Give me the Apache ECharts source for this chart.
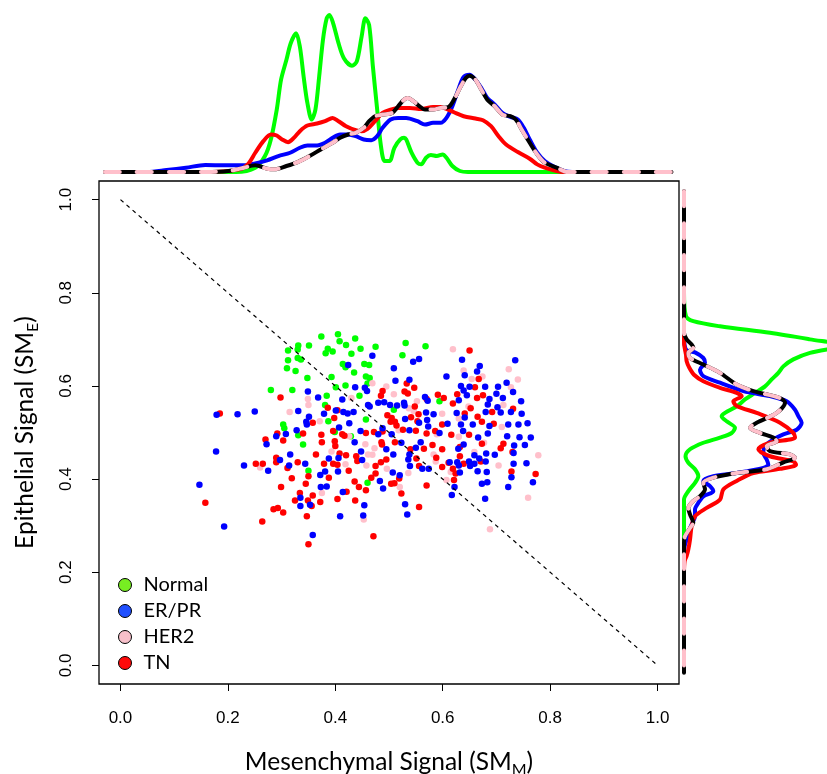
<!DOCTYPE html>
<html>
<head>
<meta charset="utf-8">
<script src="https://cdn.jsdelivr.net/npm/echarts@6/dist/echarts.min.js"></script>
<style>
  html, body { margin: 0; padding: 0; background: #fff; }
  #chart { width: 827px; height: 774px; }
</style>
</head>
<body>
<div id="chart"></div>
<script>
// tick positions shared by both axes
const tickValues = [0, 0.2, 0.4, 0.6, 0.8, 1.0];

// scatter points [SM_M, SM_E] per subtype
const normalPts = [
  [0.312,0.676],[0.331,0.687],[0.330,0.678],[0.351,0.687],[0.312,0.655],[0.330,0.660],[0.336,0.657],[0.310,0.638],
  [0.326,0.632],[0.348,0.617],[0.280,0.591],[0.320,0.591],[0.303,0.517],[0.305,0.509],[0.331,0.494],
  [0.405,0.711],[0.374,0.706],[0.437,0.702],[0.408,0.696],[0.420,0.688],[0.386,0.680],[0.382,0.670],[0.395,0.674],
  [0.447,0.680],[0.475,0.684],[0.531,0.692],[0.568,0.685],[0.430,0.669],[0.525,0.666],[0.414,0.647],[0.419,0.640],
  [0.454,0.647],[0.463,0.645],[0.435,0.629],[0.393,0.619],[0.457,0.620],[0.464,0.617],[0.460,0.605],[0.401,0.597],
  [0.419,0.601],[0.384,0.579],[0.445,0.579],[0.381,0.559],[0.387,0.524],[0.457,0.528],[0.509,0.549],[0.429,0.492],
  [0.399,0.501],[0.594,0.567],[0.340,0.474],[0.350,0.418],[0.460,0.392]
];
const erPts = [
  [0.179,0.538],[0.218,0.539],[0.250,0.545],[0.331,0.546],[0.349,0.588],[0.351,0.534],[0.346,0.523],[0.347,0.517],
  [0.328,0.505],[0.308,0.497],[0.290,0.492],
  [0.469,0.665],[0.424,0.645],[0.509,0.638],[0.545,0.652],[0.556,0.658],[0.512,0.611],[0.538,0.613],[0.437,0.597],
  [0.455,0.596],[0.459,0.589],[0.368,0.575],[0.413,0.571],[0.461,0.559],[0.464,0.556],[0.480,0.564],[0.491,0.565],
  [0.502,0.559],[0.515,0.558],[0.528,0.564],[0.529,0.558],[0.567,0.576],[0.572,0.568],[0.401,0.547],[0.415,0.544],
  [0.423,0.541],[0.434,0.544],[0.379,0.540],[0.530,0.529],[0.569,0.543],[0.571,0.527],[0.426,0.520],[0.407,0.511],
  [0.447,0.503],[0.488,0.509],[0.480,0.496],[0.505,0.496],[0.538,0.505],[0.573,0.513],[0.556,0.521],
  [0.636,0.656],[0.669,0.643],[0.664,0.631],[0.641,0.623],[0.607,0.620],[0.735,0.655],[0.719,0.607],[0.634,0.600],
  [0.650,0.598],[0.679,0.598],[0.703,0.598],[0.731,0.587],[0.639,0.590],[0.645,0.580],[0.700,0.583],[0.687,0.572],
  [0.712,0.574],[0.746,0.567],[0.630,0.569],[0.684,0.560],[0.702,0.554],[0.680,0.544],[0.708,0.543],[0.727,0.544],
  [0.747,0.540],[0.626,0.542],[0.641,0.532],[0.583,0.539],[0.722,0.517],[0.741,0.517],[0.758,0.520],[0.656,0.517],
  [0.634,0.517],[0.609,0.519],[0.687,0.514],[0.684,0.498],[0.720,0.492],[0.743,0.490],[0.764,0.489],[0.666,0.489],
  [0.594,0.499],[0.638,0.503],
  [0.178,0.459],[0.230,0.429],[0.275,0.418],[0.272,0.475],[0.316,0.453],[0.297,0.441],[0.314,0.429],[0.344,0.433],
  [0.147,0.388],[0.335,0.360],[0.335,0.342],[0.193,0.298],
  [0.436,0.479],[0.495,0.464],[0.508,0.453],[0.448,0.459],[0.450,0.441],[0.406,0.445],[0.388,0.444],[0.405,0.416],
  [0.381,0.416],[0.372,0.409],[0.384,0.384],[0.373,0.383],[0.414,0.372],[0.483,0.396],[0.489,0.380],[0.507,0.414],
  [0.520,0.408],[0.454,0.344],[0.452,0.322],[0.409,0.320],[0.530,0.346],[0.534,0.324],[0.358,0.280],[0.538,0.453],
  [0.536,0.442],[0.539,0.428],[0.550,0.467],[0.562,0.422],[0.574,0.422],[0.559,0.479],[0.523,0.478],[0.353,0.345],
  [0.639,0.474],[0.629,0.465],[0.613,0.436],[0.627,0.436],[0.630,0.429],[0.649,0.438],[0.651,0.428],[0.659,0.433],
  [0.659,0.451],[0.668,0.444],[0.681,0.455],[0.680,0.438],[0.697,0.452],[0.665,0.417],[0.682,0.415],[0.632,0.414],
  [0.622,0.383],[0.617,0.366],[0.673,0.390],[0.683,0.393],[0.679,0.358],[0.722,0.383],[0.728,0.404],[0.732,0.433],
  [0.732,0.456],[0.733,0.472],[0.753,0.473],[0.756,0.434],[0.768,0.393]
];
const her2Pts = [
  [0.349,0.572],[0.350,0.559],[0.315,0.544],
  [0.469,0.606],[0.495,0.599],[0.430,0.574],[0.509,0.582],[0.552,0.567],[0.537,0.552],[0.371,0.524],[0.518,0.505],
  [0.546,0.546],[0.426,0.492],
  [0.619,0.679],[0.639,0.633],[0.723,0.636],[0.654,0.615],[0.674,0.620],[0.740,0.614],[0.727,0.597],[0.648,0.556],
  [0.713,0.559],[0.599,0.540],[0.630,0.530],[0.710,0.512],[0.589,0.496],[0.630,0.491],
  [0.260,0.425],
  [0.456,0.475],[0.473,0.466],[0.461,0.453],[0.469,0.452],[0.419,0.432],[0.458,0.429],[0.496,0.422],[0.536,0.413],
  [0.520,0.383],[0.375,0.370],[0.453,0.313],[0.393,0.459],
  [0.583,0.453],[0.587,0.438],[0.607,0.398],[0.615,0.415],[0.659,0.458],[0.677,0.478],[0.704,0.429],[0.778,0.451],
  [0.759,0.360],[0.688,0.292]
];
const tnPts = [
  [0.298,0.575],[0.185,0.541],[0.292,0.498],[0.340,0.498],[0.270,0.485],
  [0.533,0.605],[0.547,0.596],[0.529,0.588],[0.535,0.584],[0.488,0.589],[0.485,0.579],[0.570,0.572],[0.548,0.556],
  [0.386,0.553],[0.404,0.548],[0.497,0.537],[0.505,0.531],[0.541,0.533],[0.555,0.539],[0.358,0.521],[0.398,0.531],
  [0.503,0.523],[0.511,0.523],[0.514,0.515],[0.553,0.524],[0.550,0.504],[0.526,0.506],[0.396,0.503],[0.374,0.495],
  [0.413,0.496],[0.457,0.499],[0.472,0.501],[0.488,0.502],[0.417,0.493],[0.570,0.498],
  [0.650,0.676],[0.667,0.615],[0.660,0.597],[0.591,0.581],[0.602,0.574],[0.627,0.582],[0.675,0.580],[0.664,0.574],
  [0.619,0.562],[0.652,0.552],[0.641,0.541],[0.665,0.534],[0.692,0.544],[0.695,0.519],[0.731,0.551],[0.673,0.523],
  [0.599,0.517],[0.586,0.503],[0.616,0.495],[0.649,0.495],
  [0.303,0.483],[0.290,0.446],[0.290,0.436],[0.252,0.433],[0.265,0.433],[0.311,0.424],[0.330,0.436],[0.319,0.402],
  [0.299,0.383],[0.345,0.390],[0.334,0.370],[0.325,0.354],[0.349,0.354],[0.158,0.349],[0.285,0.335],[0.293,0.338],
  [0.303,0.328],[0.347,0.320],[0.264,0.309],[0.350,0.260],[0.350,0.406],
  [0.375,0.479],[0.399,0.481],[0.400,0.471],[0.364,0.453],[0.408,0.455],[0.420,0.451],[0.441,0.439],[0.487,0.474],
  [0.486,0.479],[0.404,0.431],[0.396,0.433],[0.379,0.433],[0.425,0.418],[0.475,0.428],[0.485,0.436],[0.495,0.442],
  [0.475,0.412],[0.467,0.403],[0.388,0.403],[0.436,0.395],[0.444,0.383],[0.457,0.376],[0.421,0.373],[0.358,0.365],
  [0.404,0.357],[0.437,0.354],[0.372,0.351],[0.356,0.342],[0.504,0.390],[0.510,0.391],[0.519,0.401],[0.523,0.369],
  [0.556,0.340],[0.570,0.386],[0.471,0.277],[0.511,0.479],[0.540,0.464],[0.551,0.444],[0.565,0.465],[0.556,0.428],
  [0.439,0.449],
  [0.581,0.473],[0.599,0.464],[0.632,0.469],[0.632,0.449],[0.588,0.446],[0.611,0.435],[0.599,0.426],[0.619,0.422],
  [0.624,0.412],[0.621,0.398],[0.639,0.433],[0.671,0.438],[0.673,0.476],[0.708,0.466],[0.713,0.476],[0.730,0.458],
  [0.728,0.416],[0.773,0.411]
];

// reference diagonal
const diagonal = [[0, 1], [1, 0]];

// top marginal densities [SM_M, density]
const topNormal = [
  [0.15,0],[0.215,0],[0.251,0.143],[0.269,0.528],[0.280,1.078],[0.291,2.068],[0.299,3.058],[0.309,3.718],[0.317,4.268],
  [0.327,4.598],[0.334,4.158],[0.341,3.168],[0.348,2.288],[0.356,1.738],[0.363,2.068],[0.370,3.168],[0.377,4.378],
  [0.384,5.093],[0.389,5.203],[0.396,4.928],[0.406,4.268],[0.416,3.773],[0.431,3.52],[0.440,3.663],[0.449,4.488],
  [0.456,5.093],[0.463,4.873],[0.470,3.498],[0.478,2.068],[0.485,0.858],[0.492,0.363],[0.501,0.363],[0.510,0.803],
  [0.521,1.078],[0.528,1.133],[0.532,1.078],[0.542,0.638],[0.553,0.308],[0.560,0.253],[0.569,0.473],[0.578,0.561],
  [0.589,0.528],[0.600,0.583],[0.607,0.473],[0.618,0.198],[0.632,0.033],[0.647,0],[0.85,0]
];
const topER = [
  [0.0,0],[0.050,0],[0.086,0.066],[0.122,0.143],[0.158,0.231],[0.194,0.22],[0.230,0.22],[0.251,0.286],[0.273,0.385],
  [0.294,0.528],[0.316,0.638],[0.334,0.803],[0.348,0.88],[0.366,0.88],[0.381,0.968],[0.395,1.133],[0.409,1.243],
  [0.424,1.243],[0.438,1.188],[0.453,1.078],[0.467,1.056],[0.478,1.188],[0.488,1.463],[0.503,1.738],[0.517,1.793],
  [0.532,1.793],[0.553,1.683],[0.567,1.573],[0.582,1.628],[0.596,1.628],[0.607,1.793],[0.618,2.178],[0.629,2.728],
  [0.639,3.146],[0.650,3.223],[0.661,3.058],[0.672,2.783],[0.683,2.453],[0.697,2.233],[0.711,1.958],[0.726,1.826],
  [0.740,1.738],[0.751,1.463],[0.762,1.078],[0.776,0.638],[0.790,0.363],[0.805,0.198],[0.826,0.033],[0.841,0],[0.9,0]
];
const topTN = [
  [0.10,0],[0.158,0],[0.222,0.088],[0.237,0.253],[0.251,0.638],[0.266,1.023],[0.280,1.243],[0.291,1.21],[0.301,1.078],
  [0.312,0.99],[0.323,1.133],[0.334,1.353],[0.348,1.54],[0.366,1.606],[0.381,1.683],[0.395,1.793],[0.406,1.683],
  [0.420,1.518],[0.438,1.386],[0.449,1.353],[0.460,1.43],[0.474,1.683],[0.488,1.958],[0.503,2.068],[0.517,2.123],
  [0.539,2.123],[0.560,2.09],[0.582,2.156],[0.596,2.156],[0.607,2.09],[0.621,1.98],[0.639,1.848],[0.661,1.771],
  [0.675,1.716],[0.690,1.518],[0.704,1.188],[0.718,0.913],[0.740,0.66],[0.762,0.44],[0.776,0.253],[0.790,0.143],
  [0.805,0.066],[0.826,0],[0.88,0]
];
const topAll = [
  [-0.029,0],[0.158,0],[0.201,0.033],[0.230,0.143],[0.251,0.22],[0.273,0.11],[0.287,0.088],[0.309,0.198],[0.330,0.33],
  [0.352,0.528],[0.373,0.748],[0.395,0.968],[0.409,1.133],[0.424,1.243],[0.438,1.298],[0.453,1.463],[0.463,1.683],
  [0.474,1.848],[0.488,1.903],[0.506,1.958],[0.517,2.178],[0.528,2.398],[0.535,2.453],[0.546,2.343],[0.557,2.178],
  [0.567,2.068],[0.582,2.068],[0.596,2.123],[0.611,2.156],[0.621,2.398],[0.632,2.783],[0.643,3.113],[0.650,3.19],
  [0.661,3.058],[0.672,2.728],[0.683,2.398],[0.697,2.178],[0.711,1.903],[0.726,1.848],[0.736,1.738],[0.747,1.408],
  [0.762,0.968],[0.776,0.583],[0.790,0.308],[0.812,0.143],[0.833,0],[1.026,0]
];

// right marginal densities [density, SM_E]
const rightNormal = [
  [0,0.80],[0.066,0.750],[0.309,0.739],[1.193,0.728],[2.851,0.714],[4.177,0.700],[5.3,0.687],[4.177,0.671],
  [3.624,0.657],[3.293,0.642],[3.127,0.628],[2.906,0.614],[2.685,0.599],[2.354,0.585],[2.022,0.571],[1.746,0.556],
  [1.359,0.542],[1.249,0.535],[1.414,0.524],[1.69,0.510],[1.58,0.499],[1.193,0.489],[0.641,0.478],[0.199,0.464],
  [0.05,0.449],[0.144,0.435],[0.365,0.421],[0.475,0.406],[0.365,0.392],[0.144,0.374],[0,0.356],[0,0.25]
];
const rightER = [
  [0,0.80],[0,0.710],[0.066,0.678],[0.365,0.672],[0.641,0.660],[0.696,0.650],[0.530,0.635],[0.641,0.621],
  [1.193,0.607],[1.967,0.589],[2.851,0.578],[3.403,0.567],[3.68,0.549],[3.79,0.535],[3.9,0.521],[3.735,0.506],
  [3.293,0.496],[2.961,0.485],[2.685,0.471],[2.630,0.456],[2.740,0.442],[2.796,0.431],[2.630,0.424],[1.746,0.413],
  [0.972,0.406],[0.641,0.396],[0.862,0.385],[0.972,0.374],[0.641,0.363],[0.475,0.349],[0.365,0.335],[0.365,0.320],
  [0.254,0.303],[0.144,0.285],[0.088,0.270],[0.022,0.256],[0,0.22]
];
const rightTN = [
  [0,0.80],[0,0.692],[0.033,0.678],[0.066,0.667],[0.088,0.653],[0.177,0.639],[0.331,0.624],[0.641,0.610],
  [1.193,0.596],[1.746,0.585],[1.912,0.578],[1.635,0.567],[1.746,0.557],[2.409,0.542],[3.182,0.521],[3.624,0.499],
  [3.68,0.489],[2.851,0.478],[2.464,0.464],[2.851,0.449],[3.624,0.438],[3.713,0.431],[3.182,0.422],[2.298,0.413],
  [1.746,0.396],[1.304,0.378],[1.193,0.356],[0.751,0.338],[0.365,0.320],[0.254,0.299],[0.199,0.270],[0.144,0.249],
  [0.088,0.235],[0.022,0.224],[0,0.20]
];
const rightAll = [
  [0,1.018],[0,0.714],[0.088,0.700],[0.254,0.689],[0.309,0.682],[0.144,0.671],[0.199,0.660],[0.641,0.646],
  [1.193,0.628],[1.746,0.603],[2.298,0.589],[3.182,0.574],[3.348,0.564],[3.072,0.542],[2.409,0.521],[2.188,0.510],
  [2.519,0.499],[2.961,0.489],[3.072,0.481],[2.740,0.471],[2.851,0.460],[3.514,0.453],[3.680,0.446],[3.293,0.436],
  [2.740,0.421],[1.746,0.413],[0.972,0.403],[0.641,0.392],[0.696,0.378],[0.530,0.363],[0.309,0.353],[0.144,0.338],
  [0.199,0.324],[0.309,0.306],[0.199,0.295],[0.033,0.277],[0,0.263],[0,-0.016]
];

const GREEN = '#00ff00', BLUE = '#0000ff', PINK = '#ffc0cb', RED = '#ff0000';
const titleFont = 'Lato';
const tickFont = '"Liberation Sans", Arial, sans-serif';

function densityLine(name, data, xIdx, color, extra) {
  return Object.assign({
    name: name,
    type: 'line',
    xAxisIndex: xIdx,
    yAxisIndex: xIdx,
    data: data,
    symbol: 'none',
    smooth: 0.3,
    silent: true,
    lineStyle: { color: color, width: 4, cap: 'round', join: 'round' }
  }, extra || {});
}

function scatter(name, data, color) {
  return {
    name: name,
    type: 'scatter',
    xAxisIndex: 0,
    yAxisIndex: 0,
    data: data,
    symbolSize: 6.5,
    itemStyle: { color: color, opacity: 1 }
  };
}

const chart = echarts.init(document.getElementById('chart'), null, { renderer: 'canvas' });

const axisNameStyle = {
  fontFamily: titleFont,
  fontSize: 24.5,
  color: '#000',
  lineHeight: 26,
  rich: {
    s: { fontFamily: titleFont, fontSize: 16, color: '#000', verticalAlign: 'bottom', lineHeight: 32 }
  }
};

chart.setOption({
  animation: false,
  backgroundColor: '#fff',
  grid: [
    { left: 99, top: 181, width: 580, height: 503, outerBoundsMode: 'none', show: true, borderColor: '#000', borderWidth: 1.3, backgroundColor: 'transparent' },
    { left: 99, top: 0, width: 580, height: 172, outerBoundsMode: 'none' },
    { left: 684, top: 181, width: 143, height: 503, outerBoundsMode: 'none' }
  ],
  xAxis: [
    {
      gridIndex: 0, type: 'value', min: -0.04, max: 1.04,
      axisLine: { show: false, onZero: false },
      splitLine: { show: false },
      axisTick: { show: true, customValues: tickValues, length: 7, lineStyle: { color: '#000', width: 1 } },
      axisLabel: { customValues: tickValues, formatter: v => v.toFixed(1), margin: 26, fontSize: 17, color: '#000', fontFamily: tickFont },
      name: 'Mesenchymal Signal (SM{s|M})',
      nameLocation: 'middle', nameGap: 62,
      nameTextStyle: axisNameStyle
    },
    { gridIndex: 1, type: 'value', min: -0.04, max: 1.04, show: false },
    { gridIndex: 2, type: 'value', min: 0, max: 4.74, show: false }
  ],
  yAxis: [
    {
      gridIndex: 0, type: 'value', min: -0.04, max: 1.04,
      axisLine: { show: false, onZero: false },
      splitLine: { show: false },
      axisTick: { show: true, customValues: tickValues, length: 7, lineStyle: { color: '#000', width: 1 } },
      axisLabel: { customValues: tickValues, formatter: v => v.toFixed(1), rotate: 90, margin: 24, fontSize: 17, color: '#000', fontFamily: tickFont },
      name: 'Epithelial Signal (SM{s|E})',
      nameLocation: 'middle', nameGap: 58,
      nameTextStyle: axisNameStyle
    },
    { gridIndex: 1, type: 'value', min: 0, max: 5.7, show: false },
    { gridIndex: 2, type: 'value', min: -0.04, max: 1.04, show: false }
  ],
  legend: {
    orient: 'vertical',
    left: 113, top: 569,
    itemWidth: 13, itemHeight: 13, itemGap: 4,
    icon: 'circle',
    selectedMode: false,
    textStyle: { fontFamily: titleFont, fontSize: 20, color: '#000', lineHeight: 22, padding: [0, 0, 0, 7] },
    data: [
      { name: 'Normal', itemStyle: { color: '#77ee22', borderColor: '#000', borderWidth: 1 } },
      { name: 'ER/PR', itemStyle: { color: '#2050ff', borderColor: '#000', borderWidth: 1 } },
      { name: 'HER2', itemStyle: { color: '#f7c0ca', borderColor: '#000', borderWidth: 1 } },
      { name: 'TN', itemStyle: { color: '#ff0a0a', borderColor: '#000', borderWidth: 1 } }
    ]
  },
  series: [
    {
      name: 'diagonal', type: 'line', xAxisIndex: 0, yAxisIndex: 0,
      data: diagonal, symbol: 'none', silent: true,
      lineStyle: { color: '#000', width: 1.2, type: [4, 4] }
    },
    scatter('Normal', normalPts, GREEN),
    scatter('HER2', her2Pts, PINK),
    scatter('TN', tnPts, RED),
    scatter('ER/PR', erPts, BLUE),

    densityLine('top Normal', topNormal, 1, GREEN),
    densityLine('top ER/PR', topER, 1, BLUE),
    densityLine('top TN', topTN, 1, RED),
    densityLine('top all', topAll, 1, '#000'),
    densityLine('top all dash', topAll, 1, PINK, { lineStyle: { color: PINK, width: 4, cap: 'round', join: 'round', type: [15, 17] } }),

    densityLine('right Normal', rightNormal, 2, GREEN),
    densityLine('right ER/PR', rightER, 2, BLUE),
    densityLine('right TN', rightTN, 2, RED),
    densityLine('right all', rightAll, 2, '#000'),
    densityLine('right all dash', rightAll, 2, PINK, { lineStyle: { color: PINK, width: 4, cap: 'round', join: 'round', type: [15, 17] } })
  ]
});
</script>
</body>
</html>
